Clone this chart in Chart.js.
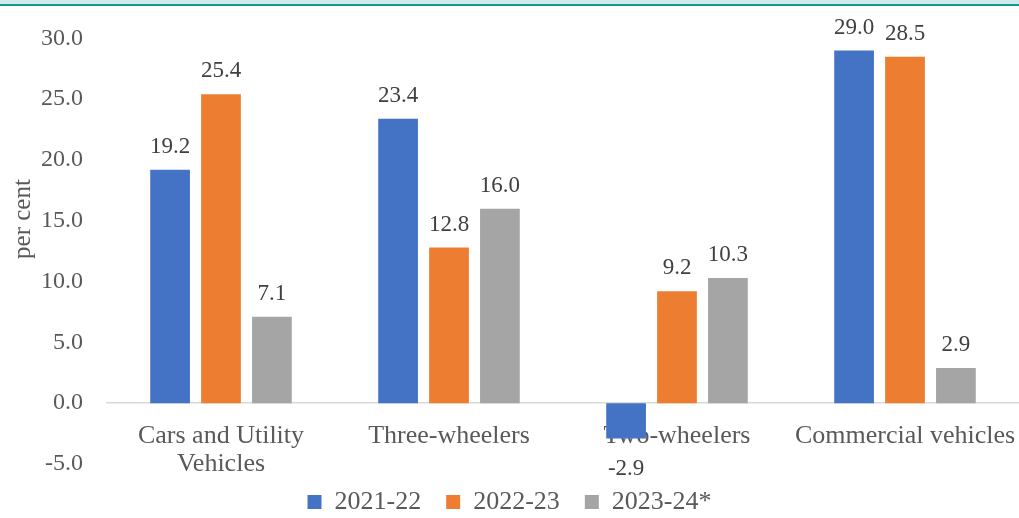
<!DOCTYPE html>
<html>
<head>
<meta charset="utf-8">
<script src="https://cdn.jsdelivr.net/npm/chart.js@4.4.1/dist/chart.umd.min.js"></script>
<style>
  html, body { margin: 0; padding: 0; background: #fff; }
</style>
</head>
<body>
<canvas id="growth" width="1019" height="518"></canvas>
<script>
//--------------------------------------------Data
const categories = [['Cars and Utility', 'Vehicles'], 'Three-wheelers', 'Two-wheelers', 'Commercial vehicles'];
const seriesNames = ['2021-22', '2022-23', '2023-24*'];
const values2122 = [19.2, 23.4, -2.9, 29.0];
const values2223 = [25.4, 12.8, 9.2, 28.5];
const values2324 = [7.1, 16.0, 10.3, 2.9];
const yTicks = [-5, 0, 5, 10, 15, 20, 25, 30];

const FONT = 'Liberation Serif';

//--------------------------------------------Plugins
const topBand = {
    id: 'topBand',
    beforeDraw(chart) {
        const ctx = chart.ctx;
        ctx.save();
        ctx.fillStyle = '#cdeaec';
        ctx.fillRect(0, 0, chart.width, 4);
        ctx.fillStyle = '#12998b';
        ctx.fillRect(0, 4, chart.width, 2);
        ctx.restore();
    },
    afterDraw(chart) {
        // y axis title, placed like the original rather than centred on the axis
        const ctx = chart.ctx;
        ctx.save();
        ctx.translate(23, 219);
        ctx.rotate(-Math.PI / 2);
        ctx.font = '25px "' + FONT + '"';
        ctx.fillStyle = '#595959';
        ctx.textAlign = 'center';
        ctx.textBaseline = 'middle';
        ctx.fillText('per cent', 0, 0);
        ctx.restore();
    }
};

const valueLabels = {
    id: 'valueLabels',
    afterDatasetsDraw(chart) {
        const ctx = chart.ctx;
        ctx.save();
        ctx.font = '23px "' + FONT + '"';
        ctx.fillStyle = '#404040';
        ctx.textAlign = 'center';
        ctx.textBaseline = 'middle';
        chart.data.datasets.forEach((ds, i) => {
            chart.getDatasetMeta(i).data.forEach((bar, j) => {
                const v = ds.data[j];
                const y = v >= 0 ? bar.y - 23 : bar.y + 30;
                ctx.fillText(v.toFixed(1), bar.x, y);
            });
        });
        ctx.restore();
    }
};

//--------------------------------------------Chart
const config = {
    type: 'bar',
    data: {
        labels: categories,
        datasets: [
            { label: seriesNames[0], data: values2122, backgroundColor: '#4472c4' },
            { label: seriesNames[1], data: values2223, backgroundColor: '#ed7d31' },
            { label: seriesNames[2], data: values2324, backgroundColor: '#a5a5a5' }
        ]
    },
    options: {
        responsive: false,
        animation: false,
        layout: { padding: { top: 38, right: 0, left: 0, bottom: -7 } },
        datasets: {
            bar: { barPercentage: 0.78, categoryPercentage: 0.67 }
        },
        plugins: {
            legend: {
                position: 'bottom',
                labels: {
                    font: { family: FONT, size: 26 },
                    color: '#595959',
                    boxWidth: 14,
                    boxHeight: 14,
                    padding: 25
                }
            },
            title: { display: false },
            tooltip: { enabled: false }
        },
        scales: {
            x: {
                position: { y: 0 },
                afterFit(axis) {
                    // let the last label run to the edge like the original
                    axis.paddingLeft = 0;
                    axis.paddingRight = 0;
                },
                grid: { display: false },
                border: { display: true, color: '#d9d9d9', width: 1.5 },
                ticks: {
                    color: '#595959',
                    font: { family: FONT, size: 26, lineHeight: 1.08 },
                    padding: 11,
                    maxRotation: 0,
                    autoSkip: false
                }
            },
            y: {
                min: -5,
                max: 30,
                afterBuildTicks(axis) {
                    axis.ticks = yTicks.map(v => ({ value: v }));
                },
                afterFit(axis) {
                    axis.width = 107;
                },
                grid: { display: false, drawTicks: false },
                border: { display: false },
                ticks: {
                    color: '#595959',
                    font: { family: FONT, size: 24 },
                    padding: 24,
                    callback: v => v.toFixed(1)
                }
            }
        }
    },
    plugins: [topBand, valueLabels]
};

new Chart(document.getElementById('growth'), config);
</script>
</body>
</html>
